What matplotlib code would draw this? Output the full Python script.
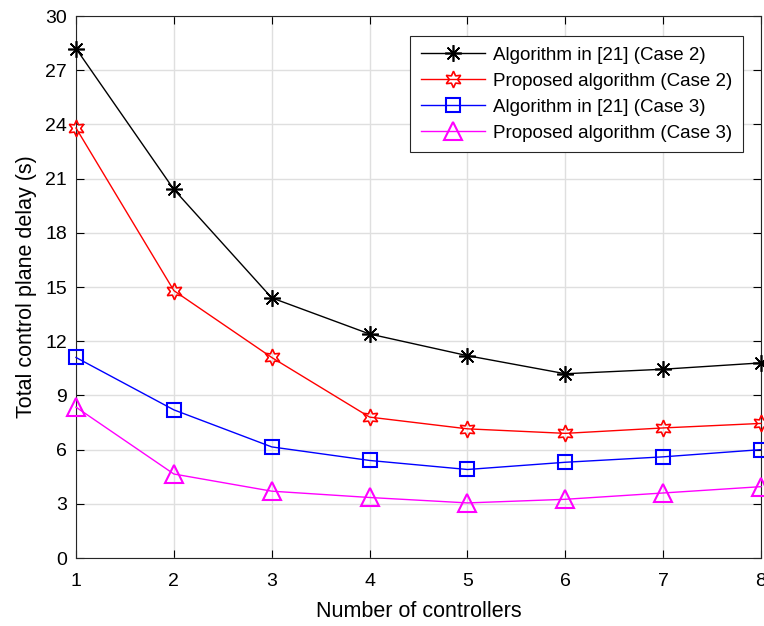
import numpy as np
import matplotlib.pyplot as plt

plt.rcParams['font.family'] = ['Liberation Sans', 'DejaVu Sans']

controllers = [1, 2, 3, 4, 5, 6, 7, 8]
alg21_case2 = [28.2, 20.4, 14.4, 12.4, 11.2, 10.2, 10.45, 10.8]
prop_case2 = [23.8, 14.8, 11.1, 7.8, 7.15, 6.9, 7.2, 7.45]
alg21_case3 = [11.1, 8.2, 6.15, 5.4, 4.9, 5.3, 5.6, 6.0]
prop_case3 = [8.35, 4.65, 3.7, 3.35, 3.05, 3.25, 3.6, 3.95]

labels = ['Algorithm in [21] (Case 2)', 'Proposed algorithm (Case 2)',
          'Algorithm in [21] (Case 3)', 'Proposed algorithm (Case 3)']

fig = plt.figure(figsize=(7.64, 6.26), dpi=100)
ax = fig.add_axes([0.0995, 0.1086, 0.8966, 0.8658])

ax.plot(controllers, alg21_case2, color='k', lw=1, marker=(8, 2, 0), ms=12,
        mew=1.2, label=labels[0], clip_on=False, zorder=3)
ax.plot(controllers, prop_case2, color='r', lw=1, marker=(6, 1, 0), ms=12,
        mfc='none', mew=1.2, label=labels[1], clip_on=False, zorder=3)
ax.plot(controllers, alg21_case3, color='b', lw=1, marker='s', ms=10,
        mfc='none', mew=1.5, label=labels[2], clip_on=False, zorder=3)
ax.plot(controllers, prop_case3, color='magenta', lw=1, marker='^', ms=13,
        mfc='none', mew=1.5, label=labels[3], clip_on=False, zorder=3)

ax.set_xlim(1, 8)
ax.set_ylim(0, 30)
ax.set_xticks(controllers)
ax.set_yticks(np.arange(0, 31, 3))
ax.grid(True, color='#dfdfdf', lw=1)
ax.set_axisbelow(True)
ax.tick_params(direction='in', top=True, right=True, labelsize=14, length=6,
               width=0.8)
ax.tick_params(axis='x', pad=11)
ax.tick_params(axis='y', pad=6.5)
for s in ax.spines.values():
    s.set_linewidth(0.8)
    s.set_color('#262626')

ax.set_xlabel('Number of controllers', fontsize=15.5, labelpad=8)
ax.set_ylabel('Total control plane delay (s)', fontsize=15.5, labelpad=6)

leg = ax.legend(loc='upper right', bbox_to_anchor=(0.973, 0.963), fontsize=13.5,
                fancybox=False, framealpha=1, edgecolor='#262626',
                handlelength=3.4, borderpad=0.55, labelspacing=0.48,
                handletextpad=0.45, borderaxespad=0)
leg.get_frame().set_linewidth(0.8)

fig.savefig('out.png', dpi=100)
